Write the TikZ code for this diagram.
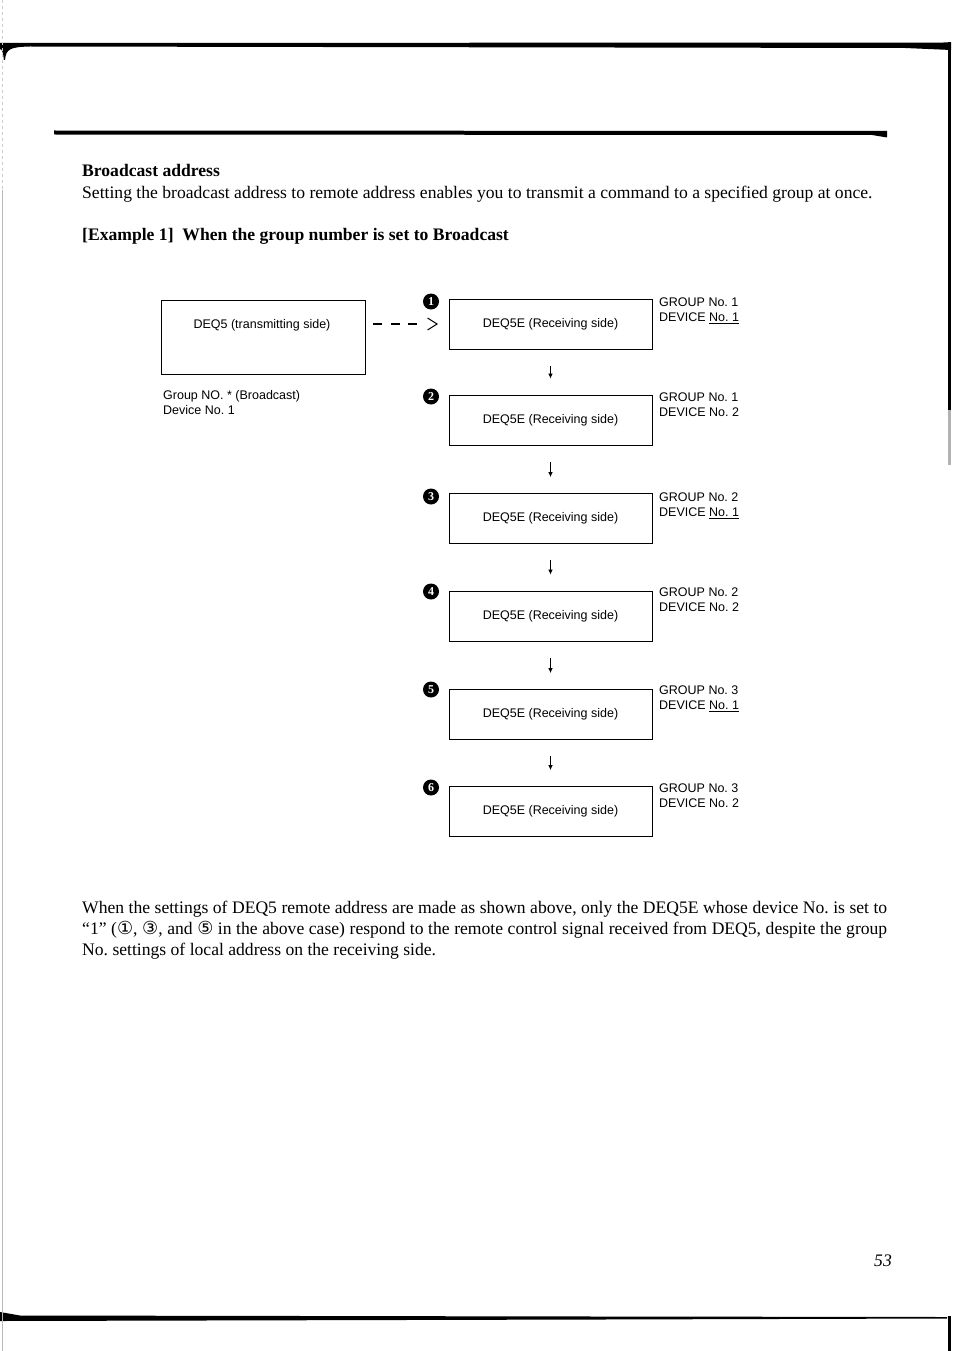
\documentclass[tikz,border=0pt]{standalone}
\usepackage{fontspec}
\setmainfont{Liberation Serif}
\newfontfamily\arialf{Liberation Sans}
\newfontfamily\dvs{DejaVu Sans}
\usetikzlibrary{arrows.meta,calc}
\newcommand{\cdg}[1]{{\dvs\fontsize{18}{18}\selectfont #1}}
\frenchspacing
\begin{document}
\begin{tikzpicture}[x=1pt,y=-1pt,
  body/.style={font=\fontsize{17.6}{21}\selectfont\frenchspacing, inner sep=0pt, anchor=base west},
  head/.style={inner sep=0pt, anchor=base west, font=\fontsize{17.6}{21}\selectfont\bfseries},
  rbox/.style={draw, line width=0.9pt, minimum width=203pt, minimum height=50pt, inner sep=0pt, font=\arialf\fontsize{12.5}{15}\selectfont},
  lbl/.style={font=\arialf\fontsize{12.5}{15}\selectfont, inner sep=0pt, anchor=base west},
  numc/.style={circle, fill=black, text=white, minimum size=16pt, inner sep=0pt, font=\bfseries\fontsize{12}{12}\selectfont},
  downarr/.style={line width=0.7pt, -{Latex[length=5pt,width=4.5pt]}, shorten <=16.5pt, shorten >=16pt},
]
\useasboundingbox (0,0) rectangle (954,1351);
\fill[white] (0,0) rectangle (954,1351);

% page frame rules
\fill (0,43) -- (948,42.5) -- (951,42.5) -- (951,50) -- (905,48) -- (30,46.5)
  .. controls (10,47) and (6,49) .. (5,60) -- (3.8,60) .. controls (3.5,53) and (2,49) .. (0,49) -- cycle;
\fill (947.5,42.5) rectangle (950.5,410);
\fill[gray!60] (948,410) rectangle (950.5,465);
\fill (54,130.5) -- (870,131) -- (887,131) -- (887,137.5) -- (872,135) -- (54,134.5) -- cycle;
\fill (0,1312) -- (20,1315.5) -- (600,1316.5) -- (947,1317) -- (947,1318.5) -- (600,1319.5) -- (0,1321) -- cycle;
\fill (948,1316) rectangle (950.5,1351);
\draw[gray!55, line width=1.2pt] (2.5,190) -- (2.5,1351);
\draw[gray!40, line width=1pt, dash pattern=on 3pt off 3pt] (2.5,0) -- (2.5,190);

% headings and text
\node[head] (h1) at (82,177) {Broadcast address};
\node[body] (p1) at (82,198) {Setting the broadcast address to remote address enables you to transmit a command to a specified group at once.};
\node[head] (h2) at (82,240) {[Example 1]\ \ When the group number is set to Broadcast};

% transmitter
\node[draw, line width=0.9pt, minimum width=204pt, minimum height=74pt, inner sep=0pt] (tx) at (263,337) {};
\node[lbl, anchor=center] (txt) at (262,325) {DEQ5 (transmitting side)};
\node[lbl] (gl1) at (163,399.5) {Group NO. * (Broadcast)};
\node[lbl] (gl2) at (163,414.5) {Device No. 1};

% receivers
\foreach \i/\y/\gy/\g/\d in {1/324/302/1/{\underline{No. 1}}, 2/420/397/1/{No. 2}, 3/518.5/497/2/{\underline{No. 1}}, 4/616/592/2/{No. 2}, 5/714.5/690/3/{\underline{No. 1}}, 6/811.5/788/3/{No. 2}}{
  \node[rbox] (r\i) at (550.5,\y) {DEQ5E (Receiving side)};
  \node[numc] (c\i) at (431,{\gy-0.5}) {\i};
  \node[lbl] (g\i) at (659,{\gy+4.5}) {GROUP No. \g};
  \node[lbl] (d\i) at (659,{\gy+19.5}) {DEVICE \d};
}
\foreach \a/\b in {1/2,2/3,3/4,4/5,5/6}
  \draw[downarr] (r\a.south) -- (r\b.north);

% dashed connector
\draw[line width=1.3pt, dash pattern=on 9pt off 8.5pt, shorten <=8pt, shorten >=31pt] (tx.east |- r1.west) -- (r1.west);
\draw[line width=1pt] ($(r1.west)+(-21,-6)$) -- ($(r1.west)+(-11.5,0)$) -- ($(r1.west)+(-21,6)$);

% bottom paragraph
\node[body] (p2a) at (82,913) {\makebox[805pt][s]{When the settings of DEQ5 remote address are made as shown above, only the DEQ5E whose device No. is set to}};
\node[body] (p2b) at (82,934) {\makebox[805pt][s]{“1” (\cdg{①}, \cdg{③}, and \cdg{⑤} in the above case) respond to the remote control signal received from DEQ5, despite the group}};
\node[body] (p2c) at (82,955) {No. settings of local address on the receiving side.};

\node[body, font=\fontsize{17.6}{21}\selectfont\itshape] (pg) at (874,1266) {53};
\end{tikzpicture}
\end{document}
